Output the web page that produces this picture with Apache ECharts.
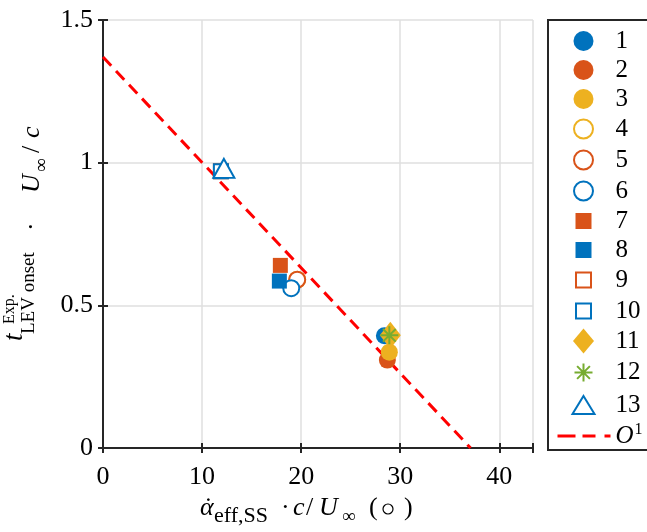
<!DOCTYPE html>
<html>
<head>
<meta charset="utf-8">
<script src="https://cdn.jsdelivr.net/npm/echarts@6/dist/echarts.min.js"></script>
<style>
  html, body { margin: 0; padding: 0; background: #fff; }
  #chart { width: 647px; height: 532px; }
</style>
</head>
<body>
<div id="chart"></div>
<script>
// case labels and measured points
var caseNames = ['1', '2', '3', '4', '5', '6', '7', '8', '9', '10', '11', '12', '13'];
var caseX = [28.4, 28.7, 28.9, 19.6, 19.6, 19.0, 17.9, 17.8, 11.9, 11.9, 29.0, 28.9, 12.2];
var caseY = [0.393, 0.308, 0.336, 0.59, 0.59, 0.56, 0.64, 0.585, 0.97, 0.97, 0.395, 0.395, 0.98];

// O^1 fit line end points
var fitX = [0, 37.1];
var fitY = [1.37, 0];

var xTicks = [0, 10, 20, 30, 40];
var yTicks = [0, 0.5, 1, 1.5];

var blue = '#0072BD', orange = '#D95319', yellow = '#EDB120', green = '#77AC30';
var serif = 'Liberation Serif';

// legend icons drawn in a 54x26 box (the M0,0M54,26 keeps the box size)
var box = 'path://M0,0M54,26';
var icons = {
  dot: box + 'M17,13A10,10,0,1,1,37,13A10,10,0,1,1,17,13Z',
  ring: box + 'M17.5,13A9.5,9.5,0,1,1,36.5,13A9.5,9.5,0,1,1,17.5,13Z',
  square: box + 'M19,5H35V21H19Z',
  box: box + 'M19.5,5.5H34.5V20.5H19.5Z',
  diamond: box + 'M27,0.5L37.5,13L27,25.5L16.5,13Z',
  star: box + 'M27,4V22M18,13H36M20.6,6.6L33.4,19.4M20.6,19.4L33.4,6.6',
  tri: box + 'M27,4L38,22H16Z',
  dash: box + 'M1,11.5H19V14.5H1Z M26,11.5H39V14.5H26Z M48,11.5H54V14.5H48Z'
};
var star = 'path://M0,-10L0,10M-10,0L10,0M-7.07,-7.07L7.07,7.07M-7.07,7.07L7.07,-7.07';

// marker look for each case
var markers = [
  { symbol: 'circle', size: 17, fill: blue, stroke: blue, icon: icons.dot },
  { symbol: 'circle', size: 17, fill: orange, stroke: orange, icon: icons.dot },
  { symbol: 'circle', size: 17, fill: yellow, stroke: yellow, icon: icons.dot },
  { symbol: 'circle', size: 16, fill: '#fff', stroke: yellow, hollow: true, icon: icons.ring },
  { symbol: 'circle', size: 16, fill: '#fff', stroke: orange, hollow: true, icon: icons.ring },
  { symbol: 'circle', size: 16, fill: '#fff', stroke: blue, hollow: true, icon: icons.ring },
  { symbol: 'rect', size: 15, fill: orange, stroke: orange, icon: icons.square },
  { symbol: 'rect', size: 15, fill: blue, stroke: blue, icon: icons.square },
  { symbol: 'rect', size: 14, fill: '#fff', stroke: orange, hollow: true, icon: icons.box },
  { symbol: 'rect', size: 14, fill: '#fff', stroke: blue, hollow: true, icon: icons.box },
  { symbol: 'diamond', size: [21, 27], fill: yellow, stroke: yellow, icon: icons.diamond },
  { symbol: star, size: 18, fill: 'none', stroke: green, hollow: true, icon: icons.star },
  { symbol: 'triangle', size: [21, 19], fill: '#fff', stroke: blue, hollow: true, icon: icons.tri }
];

var series = caseNames.map(function (name, i) {
  var m = markers[i];
  return {
    name: name,
    type: 'scatter',
    symbol: m.symbol,
    symbolSize: m.size,
    z: 3,
    itemStyle: {
      color: m.fill,
      borderColor: m.stroke,
      borderWidth: m.hollow ? 2 : 0,
      opacity: 1
    },
    data: [[caseX[i], caseY[i]]]
  };
});

series.push({
  name: 'O1',
  type: 'line',
  symbol: 'none',
  z: 2,
  lineStyle: { color: '#ff0000', width: 3, type: [12, 7] },
  itemStyle: { color: '#ff0000' },
  data: fitX.map(function (x, i) { return [x, fitY[i]]; })
});

var legendData = caseNames.map(function (name, i) {
  return { name: name, icon: markers[i].icon };
});
legendData.push({ name: 'O1', icon: icons.dash });

// one glyph of the axis titles, placed by its baseline
function glyph(text, size, italic, x, base) {
  return {
    type: 'text',
    x: x,
    y: base - 0.84 * size,
    style: { text: text, font: (italic ? 'italic ' : '') + size + 'px ' + serif, fill: '#000' }
  };
}

var chart = echarts.init(document.getElementById('chart'));

var frameLine = { show: true, lineStyle: { color: '#262626', width: 2 } };
var innerTick = { show: true, inside: true, length: 5, lineStyle: { color: '#262626', width: 2 } };

var option = {
  animation: false,
  grid: { left: 103, right: 114, top: 20, bottom: 84 },
  xAxis: [
    {
      type: 'value', min: 0, max: 43.4, interval: 10, position: 'bottom',
      axisLine: frameLine, axisTick: innerTick,
      axisLabel: {
        margin: 16, color: '#000', fontFamily: serif, fontSize: 26,
        formatter: function (v) { return xTicks.indexOf(v) >= 0 ? String(v) : ''; }
      },
      splitLine: { show: true, lineStyle: { color: '#dfdfdf', width: 1.5 } }
    },
    {
      type: 'value', min: 0, max: 43.4, interval: 10, position: 'top',
      axisLine: frameLine, axisTick: innerTick, axisLabel: { show: false },
      splitLine: { show: false }
    }
  ],
  yAxis: [
    {
      type: 'value', min: 0, max: 1.5, interval: 0.5, position: 'left',
      axisLine: frameLine, axisTick: innerTick,
      axisLabel: {
        margin: 10, color: '#000', fontFamily: serif, fontSize: 26,
        formatter: function (v) { return yTicks.indexOf(v) >= 0 ? String(v) : ''; }
      },
      splitLine: { show: true, lineStyle: { color: '#dfdfdf', width: 1.5 } }
    },
    {
      type: 'value', min: 0, max: 1.5, interval: 0.5, position: 'right',
      axisLine: frameLine, axisTick: innerTick, axisLabel: { show: false },
      splitLine: { show: false }
    }
  ],
  legend: {
    orient: 'vertical',
    left: 548,
    top: 20,
    padding: [8, 24, 0, 6],
    itemWidth: 54,
    itemHeight: 26,
    itemGap: 3,
    borderColor: '#262626',
    borderWidth: 2,
    backgroundColor: '#fff',
    data: legendData,
    formatter: function (name) {
      return name === 'O1' ? '{i|O}{s|1}' : name;
    },
    textStyle: {
      color: '#000', fontFamily: serif, fontSize: 25, lineHeight: 26,
      rich: {
        i: { fontFamily: serif, fontStyle: 'italic', fontSize: 25, lineHeight: 24, color: '#000' },
        s: { fontFamily: serif, fontSize: 16, lineHeight: 14, color: '#000', padding: [0, 0, 12, 1] }
      }
    }
  },
  graphic: [
    {
      // y axis title, rotated; local x runs up the page
      type: 'group',
      x: 0,
      y: 345,
      rotation: Math.PI / 2,
      children: [
        glyph('t', 27, true, 4, 24),
        glyph('Exp.', 16, false, 21, 15),
        glyph('LEV onset', 19, false, 11, 35),
        glyph('·', 26, false, 114, 41),
        glyph('U', 26, true, 152, 41),
        glyph('∞', 19, false, 173, 48),
        glyph('/', 26, false, 192, 41),
        glyph('c', 26, true, 207, 41)
      ]
    },
    {
      // x axis title
      type: 'group',
      children: [
        glyph('α', 26, true, 200, 517),
        glyph('˙', 26, false, 204, 517),
        glyph('eff,SS', 22, false, 214, 524),
        glyph('·', 26, false, 281, 517),
        glyph('c', 26, true, 293, 517),
        glyph('/', 26, false, 306, 517),
        glyph('U', 26, true, 319, 517),
        glyph('∞', 19, false, 342, 523),
        glyph('(', 26, false, 369, 517),
        { type: 'circle', shape: { cx: 388, cy: 509, r: 5 }, style: { fill: 'none', stroke: '#000', lineWidth: 1.2 } },
        glyph(')', 26, false, 404, 517)
      ]
    }
  ],
  series: series
};

chart.setOption(option);
</script>
</body>
</html>
